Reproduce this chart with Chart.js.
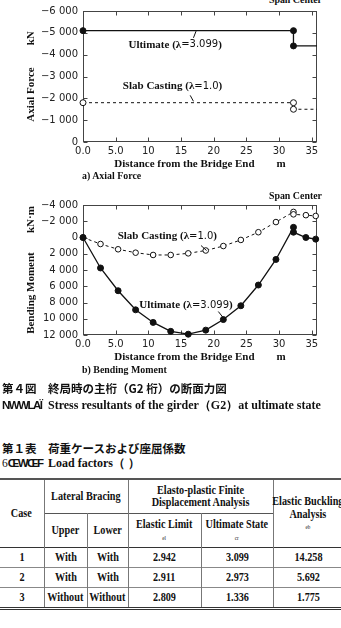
<!DOCTYPE html>
<html><head><meta charset="utf-8">
<script src="https://cdn.jsdelivr.net/npm/chart.js@4/dist/chart.umd.min.js"></script>
<style>
html,body{margin:0;padding:0;background:#fff;}
body{width:341px;height:628px;overflow:hidden;position:relative;}
.t{position:absolute;white-space:nowrap;color:#111;line-height:14px;}
.sf{font-family:'Liberation Serif','Times New Roman',serif;font-weight:bold;}
.jp{font-family:'Noto Sans CJK JP',sans-serif;font-weight:bold;font-size:11.5px;}
canvas{position:absolute;left:0;}
#tbl{position:absolute;left:0;top:478px;border-collapse:collapse;table-layout:fixed;width:343px;
 font-family:'Liberation Serif','Times New Roman',serif;font-weight:bold;font-size:12px;color:#111;}
#tbl td,#tbl th{border-left:1px solid #777;border-right:1px solid #777;padding:0;text-align:center;vertical-align:middle;line-height:12.5px;font-weight:bold;white-space:nowrap;overflow:visible;}
#tbl tr td:first-child,#tbl tr.h1 th:first-child{border-left:none;}
#tbl tr.h1 th{border-top:2px solid #555;}
#tbl tr.h2 th{border-top:1px solid #555;}
#tbl tr.h2 th:first-child{border-left:1px solid #777;}
#tbl tr.r td{border-top:1px solid #888;height:19px;}
#tbl tr.r1 td{border-top:1px solid #333;}
#tbl tr.last td{border-bottom:3px double #333;}
.c{display:inline-block;transform:scaleX(0.85);margin:0 -30px;}
.sub{display:block;font-size:6px;font-weight:normal;line-height:8px;margin-top:3px;}
</style></head><body>
<div class="t sf" style="font-size:11px;left:263px;top:-8px;transform:scaleX(0.9);transform-origin:right;">Span Center</div>
<canvas id="ca" width="341" height="172" style="top:0;width:341px;height:172px"></canvas>
<div class="t sf" style="font-size:11px;left:82px;top:168px;transform:scaleX(0.9);transform-origin:left;">a) Axial Force</div>
<div class="t sf" style="font-size:11px;left:263px;top:188px;transform:scaleX(0.9);transform-origin:right;">Span Center</div>
<canvas id="cb" width="341" height="185" style="top:180px;width:341px;height:185px"></canvas>
<div class="t sf" style="font-size:11px;left:82px;top:362px;transform:scaleX(0.9);transform-origin:left;">b) Bending Moment</div>

<div class="t jp" style="left:2px;top:381px;">第４図　終局時の主桁（G2 桁）の断面力図</div>
<div class="t sf" style="left:2px;top:398px;font-size:11.5px;"><span style="letter-spacing:-1.5px;font-family:'Liberation Sans Narrow','Liberation Sans',sans-serif;">NWWLAÏ</span></div>
<div class="t sf" style="left:48px;top:398px;font-size:12px;">Stress resultants of the girder（G2）at ultimate state</div>
<div class="t jp" style="left:2px;top:441px;">第１表　荷重ケースおよび座屈係数</div>
<div class="t sf" style="left:2px;top:456px;font-size:11.5px;"><span style="font-weight:normal;">6</span><span style="letter-spacing:-1.5px;font-family:'Liberation Sans Narrow','Liberation Sans',sans-serif;">ŒWŒF</span></div>
<div class="t sf" style="left:48px;top:456px;font-size:12px;">Load factors（ ）</div>

<table id="tbl">
<colgroup><col style="width:44px"><col style="width:43px"><col style="width:41px"><col style="width:73px"><col style="width:72px"><col style="width:70px"></colgroup>
<tr class="h1" style="height:34px"><th rowspan="2"><span class="c">Case</span></th><th colspan="2"><span class="c">Lateral Bracing</span></th><th colspan="2"><span class="c">Elasto-plastic Finite<br>Displacement Analysis</span></th><th rowspan="2"><span class="c">Elastic Buckling<br>Analysis<span class="sub">eb</span></span></th></tr>
<tr class="h2" style="height:34px"><th><span class="c">Upper</span></th><th><span class="c">Lower</span></th><th><span class="c">Elastic Limit<span class="sub">el</span></span></th><th><span class="c">Ultimate State<span class="sub">cr</span></span></th></tr>
</table>

<script>
// ---------- data ----------
const xTickValues = [0, 5, 10, 15, 20, 25, 30, 35];

const axialX = [0, 32.2, 32.2, 35.8];
const axialUltimate = [-5100, -5100, -4400, -4400];
const axialSlab = [-1800, -1800, -1500, -1500];

const momentX = [0, 2.68, 5.37, 8.05, 10.73, 13.42, 16.1, 18.78, 21.47, 24.15, 26.83, 29.52, 32.2, 32.2, 34.1, 35.6];
const momentUltimate = [0, 3750, 6550, 8900, 10450, 11550, 11900, 11400, 10100, 8400, 5850, 2700, -1250, -650, 0, 200];
const momentSlab = [0, 800, 1450, 1870, 2150, 2150, 1950, 1600, 1050, 300, -650, -1900, -3150, -2850, -2750, -2650];

const caseIds = ['1', '2', '3'];
const upperBracing = ['With', 'With', 'Without'];
const lowerBracing = ['With', 'With', 'Without'];
const elasticLimit = ['2.942', '2.911', '2.809'];
const ultimateState = ['3.099', '2.973', '1.336'];
const elasticBuckling = ['14.258', '5.692', '1.775'];

// ---------- table ----------
const tbl = document.getElementById('tbl');
caseIds.forEach((c, i) => {
  const tr = document.createElement('tr');
  tr.className = 'r' + (i === 0 ? ' r1' : '') + (i === caseIds.length - 1 ? ' last' : '');
  [c, upperBracing[i], lowerBracing[i], elasticLimit[i], ultimateState[i], elasticBuckling[i]].forEach(v => {
    const td = document.createElement('td');
    const sp = document.createElement('span'); sp.className = 'c'; sp.textContent = v;
    td.appendChild(sp); tr.appendChild(td);
  });
  tbl.appendChild(tr);
});

// ---------- helpers ----------
function toPairs(xs, ys) { return xs.map((x, i) => ({x: x, y: ys[i]})); }
function fmtY(v) {
  if (v === 0) return '0';
  const s = Math.abs(v).toString().replace(/\B(?=(\d{3})+(?!\d))/g, ' ');
  return (v < 0 ? '\u2212' : '') + s;
}
function fmtX(v) { return v < 10 ? v.toFixed(1) : String(v); }

const SERIF = "'Liberation Serif','Times New Roman',serif";
const SANS = "'DejaVu Sans',sans-serif";

const framePlugin = {
  id: 'frame',
  beforeDatasetsDraw(chart) {
    const {ctx, chartArea: a, scales: {x, y}} = chart;
    ctx.save();
    ctx.strokeStyle = '#444'; ctx.lineWidth = 1;
    const L = Math.round(a.left) + 0.5, R = Math.round(a.right) - 0.5, T = Math.round(a.top) + 0.5, B = Math.round(a.bottom) - 0.5;
    ctx.strokeRect(L, T, R - L, B - T);
    ctx.beginPath();
    const len = 4;
    x.ticks.forEach(t => {
      const px = Math.round(x.getPixelForValue(t.value)) + 0.5;
      ctx.moveTo(px, B); ctx.lineTo(px, B - len);
      ctx.moveTo(px, T); ctx.lineTo(px, T + len);
    });
    y.ticks.forEach(t => {
      const py = Math.round(y.getPixelForValue(t.value)) + 0.5;
      ctx.moveTo(L, py); ctx.lineTo(L + len, py);
      ctx.moveTo(R, py); ctx.lineTo(R - len, py);
    });
    ctx.stroke();
    ctx.restore();
  }
};

const labelPlugin = {
  id: 'seriesLabels',
  afterDatasetsDraw(chart, args, opts) {
    const {ctx, scales: {x, y}} = chart;
    (opts.items || []).forEach(it => {
      ctx.save();
      const parts = [
        {t: it.name + ' (\u03bb', f: 'bold 11px ' + SERIF},
        {t: '=' + it.lam, f: '10px ' + SANS},
        {t: ')', f: 'bold 11px ' + SERIF}
      ];
      let w = 0;
      parts.forEach(p => { ctx.font = p.f; p.w = ctx.measureText(p.t).width; w += p.w; });
      const cx = x.getPixelForValue(it.at[0]), cy = y.getPixelForValue(it.at[1]);
      let px = cx - w / 2;
      ctx.fillStyle = '#111'; ctx.textBaseline = 'middle'; ctx.textAlign = 'left';
      parts.forEach(p => { ctx.font = p.f; ctx.fillText(p.t, px, cy); px += p.w; });
      ctx.strokeStyle = '#111'; ctx.lineWidth = 1;
      ctx.beginPath();
      ctx.moveTo(x.getPixelForValue(it.lead[0]), y.getPixelForValue(it.lead[1]));
      ctx.lineTo(x.getPixelForValue(it.lead[2]), y.getPixelForValue(it.lead[3]));
      ctx.stroke();
      ctx.restore();
    });
  }
};

function baseOptions(cfg) {
  return {
    responsive: false, animation: false,
    layout: {padding: {left: 21, right: 24, top: cfg.top, bottom: 0}},
    plugins: {legend: {display: false}, tooltip: {enabled: false}, seriesLabels: {items: cfg.labels}},
    scales: {
      x: {
        type: 'linear', min: 0, max: 35.8,
        afterBuildTicks(s) { s.ticks = xTickValues.map(v => ({value: v})); },
        afterFit(s) { s.height = 30; },
        grid: {display: false, drawTicks: false}, border: {display: false},
        ticks: {autoSkip: false, maxRotation: 0, padding: 3, color: '#222', font: {family: SANS, size: 10}, callback: fmtX},
        title: {display: true, text: 'Distance from the Bridge End        m', color: '#111',
          font: {family: SERIF, weight: 'bold', size: 11}, padding: {top: 0, bottom: 1}}
      },
      y: {
        type: 'linear', reverse: true, min: cfg.ymin, max: cfg.ymax,
        ticks: {stepSize: cfg.step, padding: 5, color: '#222', font: {family: SANS, size: 10}, callback: fmtY},
        afterFit(s) { s.width = 62; },
        grid: {display: false, drawTicks: false}, border: {display: false},
        title: {display: true, text: cfg.ytitle, color: '#111',
          font: {family: SERIF, weight: 'bold', size: 11}, padding: {top: 4, bottom: 0}}
      }
    }
  };
}

const solidStyle = {borderColor: '#111', borderWidth: 1.3, backgroundColor: '#111',
  pointBackgroundColor: '#111', pointBorderColor: '#111', pointBorderWidth: 1, showLine: true, clip: false};
const dashStyle = {borderColor: '#111', borderWidth: 1, borderDash: [3, 3],
  pointBackgroundColor: '#fff', pointBorderColor: '#111', pointBorderWidth: 1, showLine: true, clip: false};

new Chart(document.getElementById('ca'), {
  type: 'scatter',
  data: {datasets: [
    Object.assign({label: 'Ultimate (\u03bb=3.099)', data: toPairs(axialX, axialUltimate), pointRadius: [3, 3, 3, 0]}, solidStyle),
    Object.assign({label: 'Slab Casting (\u03bb=1.0)', data: toPairs(axialX, axialSlab), pointRadius: [3, 3, 3, 0]}, dashStyle)
  ]},
  options: baseOptions({top: 10, ymin: -6000, ymax: 0, step: 1000,
    ytitle: 'Axial Force        kN',
    labels: [
      {name: 'Ultimate', lam: '3.099', at: [14.1, -4455], lead: [16.9, -4770, 17.3, -5080]},
      {name: 'Slab Casting', lam: '1.0', at: [13.7, -2545], lead: [16.4, -2136, 16.9, -1864]}
    ]}),
  plugins: [framePlugin, labelPlugin]
});

new Chart(document.getElementById('cb'), {
  type: 'scatter',
  data: {datasets: [
    Object.assign({label: 'Ultimate (\u03bb=3.099)', data: toPairs(momentX, momentUltimate), pointRadius: 3}, solidStyle),
    Object.assign({label: 'Slab Casting (\u03bb=1.0)', data: toPairs(momentX, momentSlab), pointRadius: 2.8}, dashStyle)
  ]},
  options: baseOptions({top: 25, ymin: -4000, ymax: 12000, step: 2000,
    ytitle: 'Bending Moment       kN\u00b7m',
    labels: [
      {name: 'Slab Casting', lam: '1.0', at: [12.9, -185], lead: [18.05, 985, 18.9, 1600]},
      {name: 'Ultimate', lam: '3.099', at: [15.75, 8310], lead: [20.7, 9110, 21.55, 9970]}
    ]}),
  plugins: [framePlugin, labelPlugin]
});
</script>
</body></html>
